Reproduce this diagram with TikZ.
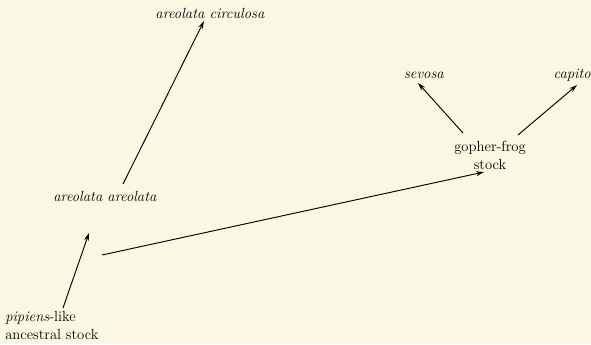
\documentclass[tikz,border=0pt]{standalone}
\usetikzlibrary{arrows.meta}
\definecolor{paper}{RGB}{250,248,226}
\begin{document}
\begin{tikzpicture}[x=0.75pt,y=-0.75pt,
  lbl/.style={inner sep=0pt,font=\fontsize{11}{13.5}\selectfont},
  arr/.style={line width=0.7pt,-{Stealth[length=6pt,width=3.6pt]}}]
\fill[paper] (0,0) rectangle (591,344);
\useasboundingbox (0,0) rectangle (591,344);
\node[lbl] (circ) at (210,13) {\textit{areolata circulosa}};
\node[lbl] (aa) at (105,196) {\textit{areolata areolata}};
\node[lbl,align=left,anchor=west] (pip) at (5,325) {\textit{pipiens}-like\\ancestral stock};
\node[lbl,align=center] (gf) at (490,155) {gopher-frog\\stock};
\node[lbl] (sev) at (424,75) {\textit{sevosa}};
\node[lbl,anchor=east] (cap) at (591,75) {\textit{capito}};
\coordinate (pipS) at (63,308);
\coordinate (aaE) at (89,233);
\coordinate (aaS) at (123,184);
\coordinate (circE) at (204,21);
\coordinate (pipL) at (102,255);
\coordinate (gfE) at (484,172);
\coordinate (gfL) at (463,133);
\coordinate (sevE) at (418,83);
\coordinate (gfR) at (518,135);
\coordinate (capE) at (577,85);
\draw[arr] (pipS) -- (aaE);
\draw[arr] (aaS) -- (circE);
\draw[arr] (pipL) -- (gfE);
\draw[arr] (gfL) -- (sevE);
\draw[arr] (gfR) -- (capE);
\end{tikzpicture}
\end{document}
